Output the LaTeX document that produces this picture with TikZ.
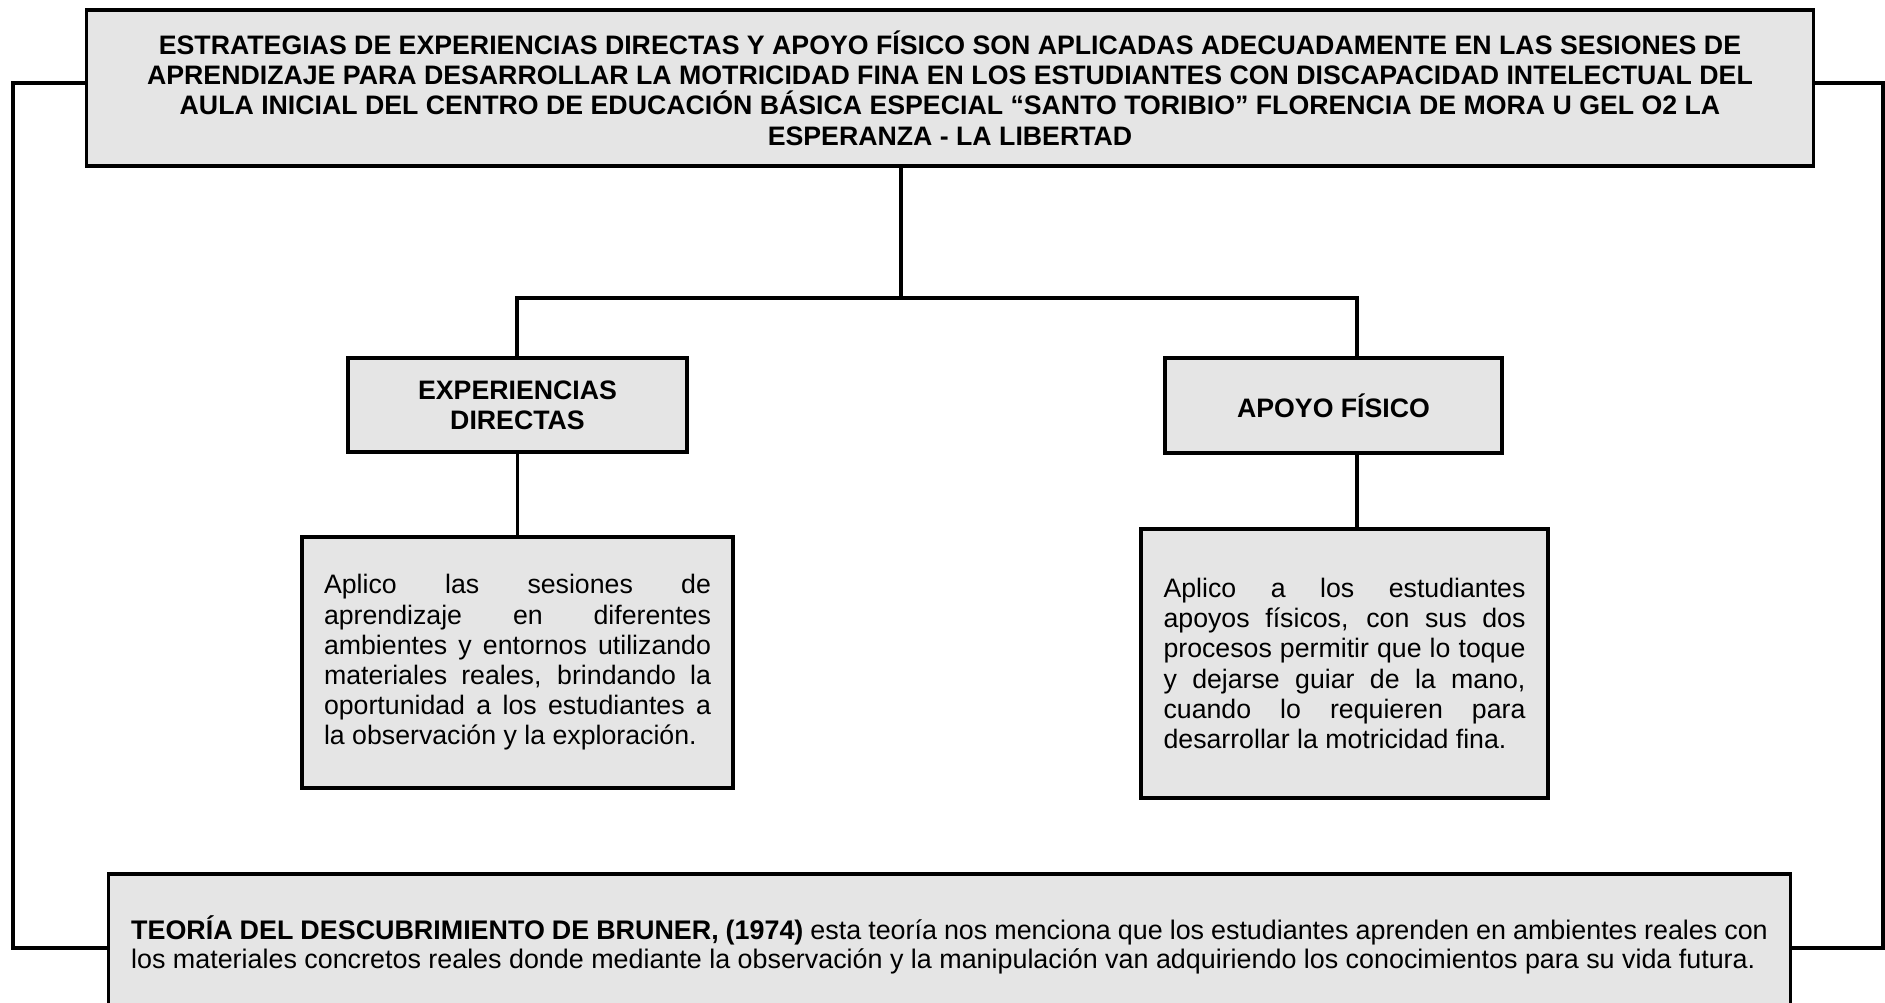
\documentclass[tikz,border=0pt]{standalone}
\usepackage{fontspec}
\setmainfont{Liberation Sans}
\usetikzlibrary{shapes,arrows,positioning}

\newcommand{\letra}{\fontsize{15.2}{17.2}\selectfont}
\tikzset{
  caja/.style={rectangle, draw, line width=1.8pt, fill=gray!20, inner sep=0pt},
  linea/.style={line width=1.8pt},
  cabeza/.style={caja, font=\letra\bfseries, align=center},
  cuerpo/.style={caja, font=\letra, align=justify},
}

\begin{document}
\begin{tikzpicture}[x=0.02cm,y=-0.02cm]
\useasboundingbox (0,0) rectangle (1885,1002);
\clip (0,0) rectangle (1885,1002);

% titulo
\node [cabeza, minimum width=34.56cm, minimum height=3.12cm] (titulo) at (950,88) {%
ESTRATEGIAS DE EXPERIENCIAS DIRECTAS Y APOYO FÍSICO SON APLICADAS ADECUADAMENTE EN LAS SESIONES DE\\
APRENDIZAJE PARA DESARROLLAR LA MOTRICIDAD FINA EN LOS ESTUDIANTES CON DISCAPACIDAD INTELECTUAL DEL\\
AULA INICIAL DEL CENTRO DE EDUCACIÓN BÁSICA ESPECIAL “SANTO TORIBIO” FLORENCIA DE MORA U GEL O2 LA\\
ESPERANZA - LA LIBERTAD};

% ramas
\node [cabeza, minimum width=6.78cm, minimum height=1.88cm] (experiencias) at (517.5,405) {EXPERIENCIAS\\DIRECTAS};
\node [cabeza, minimum width=6.74cm, minimum height=1.9cm] (apoyo) at (1333.5,405.5) {APOYO FÍSICO};

% textos
\node [cuerpo, minimum width=8.62cm, minimum height=5.02cm, text width=7.74cm] (exptexto) at (517.5,662.5) {%
Aplico las sesiones de\linebreak aprendizaje en diferentes\linebreak ambientes y entornos utilizando\linebreak materiales reales, brindando la\linebreak oportunidad a los estudiantes a\linebreak la observación y la exploración.};
\node [cuerpo, minimum width=8.14cm, minimum height=5.38cm, text width=7.24cm] (apoyotexto) at (1344.5,663.5) {%
Aplico a los estudiantes\linebreak apoyos físicos, con sus dos\linebreak procesos permitir que lo toque\linebreak y dejarse guiar de la mano,\linebreak cuando lo requieren para\linebreak desarrollar la motricidad fina.};

% teoria
\node [cuerpo, font=\fontsize{15.3}{16.2}\selectfont, minimum width=33.66cm, minimum height=2.84cm, text width=32.74cm] (teoria) at (949.5,945) {%
\textbf{TEORÍA DEL DESCUBRIMIENTO DE BRUNER, (1974)} esta teoría nos menciona que los estudiantes aprenden en ambientes reales con\linebreak los materiales concretos reales donde mediante la observación y la manipulación van adquiriendo los conocimientos para su vida futura.};

% conectores
\coordinate (tronco) at (901,298);
\coordinate (ramaI) at (517,298);
\coordinate (ramaD) at (1357,298);
\draw [linea] (titulo.south -| tronco) -- (tronco);
\draw [linea] (ramaI |- experiencias.north) -- (ramaI) -- (ramaD) -- (ramaD |- apoyo.north);
\draw [linea] (experiencias.south) -- (exptexto.north);
\draw [linea] (ramaD |- apoyo.south) -- (ramaD |- apoyotexto.north);

\coordinate (izqA) at (13,83);
\coordinate (izqB) at (13,948);
\coordinate (derA) at (1883,83);
\coordinate (derB) at (1883,948);
\draw [linea] (izqA -| titulo.west) -- (izqA) -- (izqB) -- (izqB -| teoria.west);
\draw [linea] (derA -| titulo.east) -- (derA) -- (derB) -- (derB -| teoria.east);
\end{tikzpicture}
\end{document}
